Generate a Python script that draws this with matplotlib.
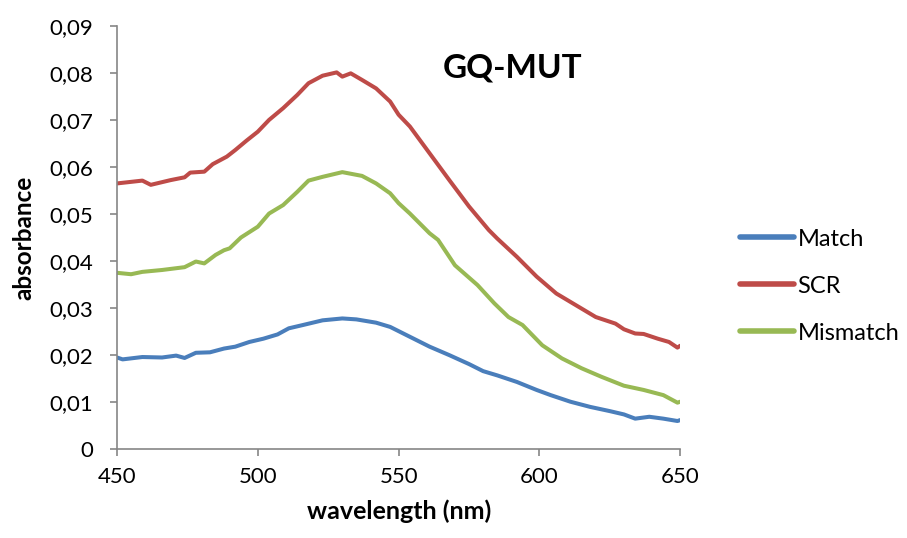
import matplotlib.pyplot as plt
from matplotlib.ticker import FuncFormatter

# absorbance spectra, GQ-MUT
match_nm = [450, 452, 459, 466, 471, 474, 478, 483, 488, 492, 497, 502, 507, 511,
            516, 523, 530, 535, 542, 547, 554, 561, 568, 575, 580, 585, 592, 599,
            604, 611, 618, 625, 630, 634, 639, 644, 649, 650]
match_abs = [0.0195, 0.0191, 0.0196, 0.0195, 0.0199, 0.0194, 0.0205, 0.0206, 0.0214,
             0.0218, 0.0228, 0.0235, 0.0244, 0.0257, 0.0264, 0.0274, 0.0278, 0.0276,
             0.0269, 0.0260, 0.0239, 0.0218, 0.0200, 0.0181, 0.0166, 0.0157, 0.0143,
             0.0126, 0.0115, 0.0101, 0.0090, 0.0081, 0.0074, 0.0065, 0.0069, 0.0065,
             0.0060, 0.0062]

scr_nm = [450, 459, 462, 469, 474, 476, 481, 484, 489, 492, 496, 500, 504, 509,
          514, 518, 523, 528, 530, 533, 537, 542, 547, 550, 554, 561, 568, 575,
          582, 585, 592, 599, 606, 613, 620, 627, 630, 634, 637, 642, 646, 649, 650]
scr_abs = [0.0565, 0.0571, 0.0562, 0.0572, 0.0578, 0.0588, 0.0590, 0.0606, 0.0622,
           0.0636, 0.0656, 0.0675, 0.0700, 0.0725, 0.0753, 0.0778, 0.0794, 0.0801,
           0.0792, 0.0799, 0.0785, 0.0767, 0.0739, 0.0711, 0.0686, 0.0629, 0.0572,
           0.0516, 0.0466, 0.0448, 0.0409, 0.0367, 0.0331, 0.0306, 0.0281, 0.0267,
           0.0255, 0.0246, 0.0245, 0.0235, 0.0228, 0.0216, 0.0220]

mis_nm = [450, 455, 459, 466, 474, 478, 481, 485, 488, 490, 494, 500, 504, 509,
          514, 518, 523, 530, 537, 542, 547, 550, 554, 561, 564, 570, 578, 584,
          589, 594, 601, 608, 615, 622, 630, 637, 644, 649, 650]
mis_abs = [0.0375, 0.0372, 0.0377, 0.0381, 0.0387, 0.0399, 0.0395, 0.0413, 0.0423,
           0.0427, 0.0450, 0.0473, 0.0501, 0.0519, 0.0547, 0.0571, 0.0579, 0.0589,
           0.0581, 0.0565, 0.0544, 0.0523, 0.0501, 0.0459, 0.0445, 0.0391, 0.0349,
           0.0310, 0.0281, 0.0264, 0.0221, 0.0193, 0.0172, 0.0154, 0.0135, 0.0126,
           0.0115, 0.0099, 0.0101]

series = [("Match", match_nm, match_abs, "#4a7ebb"),
          ("SCR", scr_nm, scr_abs, "#be4b48"),
          ("Mismatch", mis_nm, mis_abs, "#98b954")]

plt.rcParams['font.family'] = ['Lato', 'DejaVu Sans']

fig = plt.figure(figsize=(9.07, 5.38), dpi=100)
ax = fig.add_axes([0.129, 0.165, 0.621, 0.787])

for name, x, y, col in series:
    ax.plot(x, y, color=col, lw=2.9, label=name, solid_capstyle='round')

ax.set_xlim(450, 650)
ax.set_ylim(0, 0.09)
ax.set_xticks([450, 500, 550, 600, 650])
ax.set_yticks([i / 100 for i in range(10)])
ax.yaxis.set_major_formatter(FuncFormatter(lambda v, p: ("%g" % round(v, 2)).replace('.', ',')))

for side in ['top', 'right']:
    ax.spines[side].set_visible(False)
for side in ['left', 'bottom']:
    ax.spines[side].set_color('#868686')
    ax.spines[side].set_linewidth(1.2)
ax.tick_params(colors='#868686', labelcolor='black', labelsize=16, length=5, width=1.2)
ax.tick_params(axis='y', pad=12)
ax.tick_params(axis='x', pad=8)

ax.set_xlabel("wavelength (nm)", fontsize=18, fontweight='bold', labelpad=9)
ax.set_ylabel("absorbance", fontsize=17.5, fontweight='bold', labelpad=10)
ax.text(0.703, 0.9, "GQ-MUT", transform=ax.transAxes, ha='center', va='center',
        fontsize=24, fontweight='bold')

leg = fig.legend(loc='center left', bbox_to_anchor=(0.792, 0.468), frameon=False,
                 fontsize=17, handlelength=2.3, handletextpad=0.15, labelspacing=1.1)
for line in leg.get_lines():
    line.set_linewidth(4)

fig.savefig("out.png", dpi=100)
